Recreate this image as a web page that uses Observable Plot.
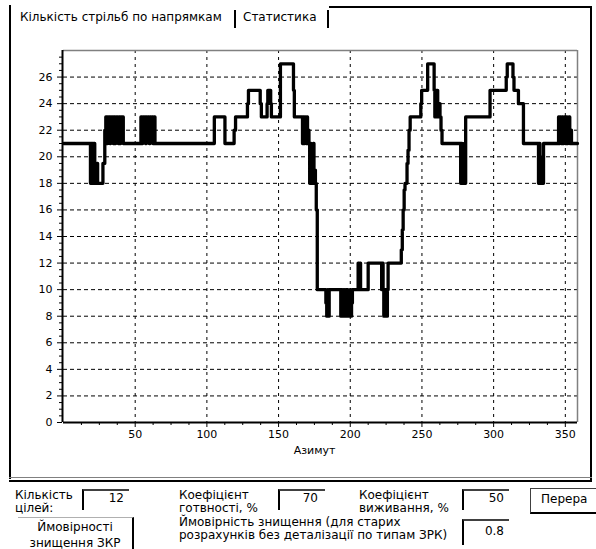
<!DOCTYPE html>
<html><head><meta charset="utf-8">
<script src="https://cdn.jsdelivr.net/npm/d3@7"></script>
<script src="https://cdn.jsdelivr.net/npm/@observablehq/plot@0.6"></script>
<style>
html,body{margin:0;padding:0;background:#fff;}
#root{position:relative;width:596px;height:549px;overflow:hidden;font-family:"DejaVu Sans",sans-serif;color:#000;background:#fff;}
#chart{position:absolute;left:0;top:0;}
.ln{position:absolute;background:#000;}
.t{position:absolute;white-space:nowrap;font-size:12px;line-height:12.5px;}
.box{position:absolute;box-sizing:border-box;border-left:2px solid #000;border-top:2px solid #404040;text-align:right;font-size:12px;line-height:13px;}
.btn{position:absolute;box-sizing:border-box;font-size:12px;white-space:nowrap;}
</style></head>
<body><div id="root">
<div id="chart"></div>
<div class="ln" style="left:9px;top:5px;width:2px;height:474px"></div>
<div class="ln" style="left:329px;top:6px;width:263px;height:2px"></div>
<div class="ln" style="left:234px;top:10px;width:2px;height:18px"></div>
<div class="ln" style="left:327px;top:10px;width:2px;height:18px"></div>
<div class="ln" style="left:590px;top:6px;width:2px;height:476px"></div>
<div class="ln" style="left:9px;top:477px;width:583px;height:1px;background:#808080"></div>
<div class="ln" style="left:9px;top:480px;width:583px;height:2px"></div>
<div class="t" style="left:20px;top:10px;line-height:14px">Кількість стрільб по напрямкам</div>
<div class="t" style="left:243px;top:10px;line-height:14px">Статистика</div>

<div class="t" style="left:15px;top:489px">Кількість<br>цілей:</div>
<div class="box" style="left:82px;top:489px;width:47px;height:21px;padding-right:5px;padding-top:1px">12</div>
<div class="t" style="left:179px;top:489px">Коефіцієнт<br>готвності, %</div>
<div class="box" style="left:278px;top:489px;width:47px;height:21px;padding-right:7px;padding-top:1px">70</div>
<div class="t" style="left:359px;top:489px">Коефіцієнт<br>виживання, %</div>
<div class="box" style="left:462px;top:489px;width:47px;height:21px;padding-right:5px;padding-top:1px">50</div>
<div class="btn" style="left:530px;top:488px;width:70px;height:26px;border:1px solid #404040;border-bottom:2px solid #000;padding-left:10px;line-height:20px">Перера</div>
<div class="btn" style="left:18px;top:517px;width:116px;height:40px;border-top:1px solid #b0b0b0;border-right:2px solid #000;text-align:center;line-height:16px;padding-top:1px">Ймовірності<br>знищення ЗКР</div>
<div class="t" style="left:179px;top:516px">Ймовірність знищення (для старих<br>розрахунків без деталізації по типам ЗРК)</div>
<div class="box" style="left:462px;top:519px;width:47px;height:26px;padding-right:5px;padding-top:4px">0.8</div>
</div>
<script>
// Azimuth (degrees) where the count changes, and the count from that azimuth on
const azimuth = [0,18.8,19.3,19.8,20.3,20.8,21.3,21.8,22.3,22.8,23.3,23.8,27.5,28.8,
29.5,30.2,30.7,31.3,31.8,32.4,32.9,33.5,34.1,34.7,35.2,35.8,36.4,37,37.6,38.2,38.8,39.4,39.9,40.5,41.1,41.7,
54,54.6,55.2,55.9,56.5,57.2,57.8,58.5,59.1,59.8,60.4,61.1,61.7,62.4,63,63.8,
105.2,112.6,119,120,128.3,129,137.2,138,142,142.5,144.5,145,151.3,160.4,161,
166.7,167.2,167.7,168.2,168.7,169.2,169.7,170.2,170.7,171.2,171.7,172.2,172.7,173.2,173.7,174.2,174.7,175.2,175.7,176.3,177,
183,183.6,184.2,184.7,185.3,193.4,193.9,194.4,194.9,195.4,195.9,196.4,196.9,197.4,197.9,198.4,198.9,199.4,199.9,200.4,200.9,201.5,
205.5,206,206.6,207.2,212.5,221.9,222.4,222.9,223.4,223.9,224.4,224.9,225.4,225.9,226.4,
235.6,236.3,236.9,237.6,238.2,239.6,240.3,241,241.8,249.2,249.8,254,258.5,259,259.5,260,260.5,261,261.5,262,262.6,263.3,264,
277,277.5,278,278.5,279,279.5,280,280.5,297.5,308.8,309.5,313.5,314.2,317.3,320.8,
331.3,331.8,332.3,332.8,333.3,333.8,334.3,334.8,
345.3,345.8,346.3,346.8,347.3,347.8,348.4,349,349.5,350.1,350.7,351.3,351.9,352.5,353.1,353.7,354.3,358.5];
const shots = [21,18,21,18,21,18,21,18,19.5,18,19.5,18,19.5,22,
23,21,23,22,23,21,23,22,23,21,23,21,23,22,23,21,23,21,23,22,23,21,
23,21,23,22,23,21,23,22,23,21,23,22,23,21,23,21,
23,21,22,23,24,25,24,23,24,25,24,23,27,25,23,
21,23,21,23,22,21,23,21,22,21,18,21,18,20,18,21,18,19,18,16,10,
9,8,10,8,10,8,10,9,8,10,8,9,10,8,10,8,9,8,10,8,9,10,
12,10,12,10,12,10,12,10,8,10,8,10,8,10,12,
13,14.5,16,17.5,18,19.5,20.5,22,23,24,25,27,25,23,25,23,25,24,23,24,23,22,21,
18,21,18,20,18,21,18,23,25,26,27,26,25,24,21,
18,21,18,20,18,19,18,21,
23,21,23,22,21,23,21,22,23,21,23,21,22,23,21,22,21,21];
const xTicks = [50,100,150,200,250,300,350];
const yTicks = [0,2,4,6,8,10,12,14,16,18,20,22,24,26];
const xLabel = "Азимут";

const data = azimuth.map((a, i) => ({az: a, n: shots[i]}));
const xMinor = d3.range(12.5, 358.5, 12.5).filter(v => !xTicks.includes(v));
const yMinor = d3.range(0.5, 28, 0.5).filter(v => !yTicks.includes(v));

const chart = Plot.plot({
  width: 596, height: 480,
  marginLeft: 63, marginRight: 19, marginTop: 50, marginBottom: 58,
  x: {domain: [0, 358.5]},
  y: {domain: [0, 28]},
  style: {fontFamily: "DejaVu Sans, sans-serif", fontSize: "11px", color: "#000", background: "transparent", overflow: "visible"},
  marks: [
    Plot.gridY(yTicks.slice(1), {stroke: "#000", strokeOpacity: 1, strokeDasharray: "4,3"}),
    Plot.gridX(xTicks, {stroke: "#000", strokeOpacity: 1, strokeDasharray: "3,4"}),
    Plot.ruleY([28], {stroke: "#808080", strokeWidth: 1.5}),
    Plot.ruleX([358.5], {stroke: "#808080", strokeWidth: 1.5}),
    Plot.line(data, {x: "az", y: "n", curve: "step-after", stroke: "#000", strokeWidth: 3.3}),
    Plot.ruleX([0], {stroke: "#000", strokeWidth: 2, dx: -1}),
    Plot.ruleY([0], {stroke: "#000", strokeWidth: 2}),
    Plot.axisY(yTicks, {tickSize: 5, tickPadding: 5, label: null, dx: -1}),
    Plot.axisY(yMinor, {tickSize: 3, tickFormat: () => "", label: null, dx: -1}),
    Plot.axisX(xTicks, {tickSize: 5, tickPadding: 3, label: null}),
    Plot.axisX(xMinor, {tickSize: 3, tickFormat: () => "", label: null}),
    Plot.text([xLabel], {text: d => d, frameAnchor: "bottom", dy: 31, dx: -6})
  ]
});
document.getElementById("chart").appendChild(chart);
</script>
</body></html>
